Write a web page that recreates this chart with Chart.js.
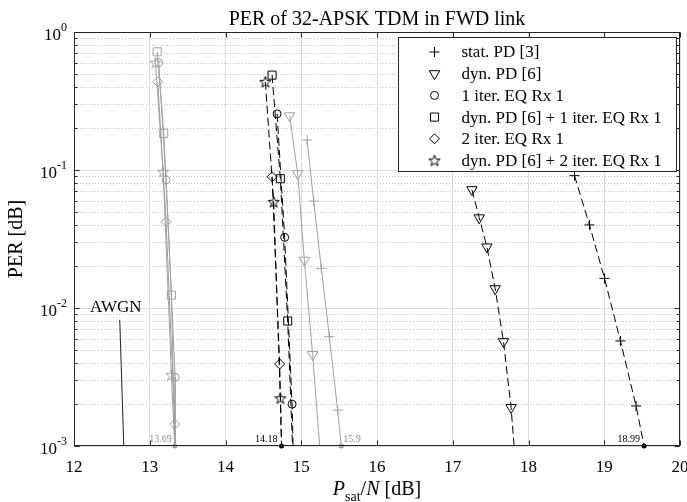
<!DOCTYPE html>
<html lang="en">
<head>
<meta charset="UTF-8">
<title>PER of 32-APSK TDM in FWD link</title>
<script src="https://cdn.jsdelivr.net/npm/chart.js@4"></script>
<style>
  html, body { margin: 0; padding: 0; background: #fff; }
  #wrap { width: 687px; height: 502px; }
</style>
</head>
<body>
<div id="wrap"><canvas id="perChart"></canvas></div>
<script>
// x: Psat/N [dB], y: PER. Last point of a curve sits on the 1e-3 floor (no marker there).
const PER_FLOOR = 0.001;

// black dashed curves
const statPdX = [18.607, 18.805, 19.003, 19.214, 19.42, 19.526];
const statPdY = [0.091, 0.040, 0.0164, 0.00577, 0.00195, 0.001];
const dynPdX = [17.253, 17.35, 17.451, 17.56, 17.67, 17.77, 17.81];
const dynPdY = [0.072, 0.045, 0.0277, 0.0138, 0.0057, 0.0019, 0.001];
const eq1X = [14.681, 14.781, 14.879, 14.892];
const eq1Y = [0.255, 0.0325, 0.00201, 0.001];
const dynEq1X = [14.615, 14.724, 14.821, 14.885];
const dynEq1Y = [0.487, 0.0865, 0.00805, 0.001];
const eq2X = [14.615, 14.715, 14.74];
const eq2Y = [0.0893, 0.00393, 0.001];
const dynEq2X = [14.526, 14.636, 14.724, 14.74];
const dynEq2Y = [0.436, 0.0588, 0.00222, 0.001];

// grey solid curves
const statPdGrayX = [15.077, 15.164, 15.265, 15.371, 15.48, 15.529];
const statPdGrayY = [0.165, 0.0595, 0.0194, 0.0062, 0.00182, 0.001];
const dynPdGrayX = [14.847, 14.953, 15.041, 15.15, 15.243];
const dynPdGrayY = [0.247, 0.094, 0.0222, 0.0046, 0.001];
const eq1GrayX = [13.119, 13.216, 13.335, 13.335];
const eq1GrayY = [0.6, 0.0848, 0.00315, 0.001];
const dynEq1GrayX = [13.098, 13.185, 13.286, 13.33];
const dynEq1GrayY = [0.719, 0.1845, 0.0124, 0.001];
const eq2GrayX = [13.106, 13.216, 13.33, 13.33];
const eq2GrayY = [0.436, 0.0421, 0.00144, 0.001];
const dynEq2GrayX = [13.075, 13.177, 13.286, 13.33];
const dynEq2GrayY = [0.6, 0.0973, 0.00327, 0.001];

// AWGN pointer line
const awgnX = [12.604, 12.657];
const awgnY = [0.0082, 0.001];

// marked end points on the floor
const endGrayX = [13.33, 15.529];
const endGrayY = [0.001, 0.001];
const endGrayLabels = ['13.69', '15.9'];
const endBlackX = [14.74, 19.526];
const endBlackY = [0.001, 0.001];
const endBlackLabels = ['14.18', '18.99'];

const legendLabels = ['stat. PD [3]', 'dyn. PD [6]', '1 iter. EQ Rx 1',
  'dyn. PD [6] + 1 iter. EQ Rx 1', '2 iter. EQ Rx 1', 'dyn. PD [6] + 2 iter. EQ Rx 1'];

const xTicks = [12, 13, 14, 15, 16, 17, 18, 19, 20];
const yMajorTicks = [0.001, 0.01, 0.1, 1];
const yTickExponents = ['-3', '-2', '-1', '0'];
const yMinorTicks = [0.002, 0.003, 0.004, 0.005, 0.006, 0.007, 0.008, 0.009,
  0.02, 0.03, 0.04, 0.05, 0.06, 0.07, 0.08, 0.09,
  0.2, 0.3, 0.4, 0.5, 0.6, 0.7, 0.8, 0.9];

const SERIF = "'Liberation Serif', 'Times New Roman', serif";
const BLACK = '#000000';
const GRAY = '#a0a0a0';

function makeStar(color) {
  const c = document.createElement('canvas');
  c.width = 14; c.height = 14;
  const g = c.getContext('2d');
  g.strokeStyle = color;
  g.lineWidth = 1;
  g.beginPath();
  for (let i = 0; i < 10; i++) {
    const r = i % 2 ? 2.4 : 5.8;
    const ang = -Math.PI / 2 + i * Math.PI / 5;
    const px = 7 + r * Math.cos(ang), py = 7.5 + r * Math.sin(ang);
    if (i) g.lineTo(px, py); else g.moveTo(px, py);
  }
  g.closePath();
  g.stroke();
  return c;
}

const markers = {
  cross: { style: 'cross', radius: 5, rotation: 0 },
  tri: { style: 'triangle', radius: 6, rotation: 180 },
  circle: { style: 'circle', radius: 4, rotation: 0 },
  square: { style: 'rect', radius: 5.7, rotation: 0 },
  diamond: { style: 'rectRot', radius: 5, rotation: 0 },
  starBlack: { style: makeStar(BLACK), radius: 5, rotation: 0 },
  starGray: { style: makeStar(GRAY), radius: 5, rotation: 0 }
};
const legendMarkers = [markers.cross, markers.tri, markers.circle, markers.square, markers.diamond, markers.starBlack];

function toPoints(xs, ys) {
  return xs.map((x, i) => ({ x: x, y: ys[i] }));
}

function curve(label, xs, ys, marker, color, dashed) {
  return {
    label: label,
    data: toPoints(xs, ys),
    showLine: true,
    borderColor: color,
    borderWidth: 1,
    borderDash: dashed ? [8, 4] : [],
    tension: 0,
    pointStyle: marker.style,
    pointRotation: marker.rotation,
    pointRadius: ctx => (ctx.raw && ctx.raw.y > PER_FLOOR ? marker.radius : 0),
    pointBorderColor: color,
    pointBackgroundColor: 'rgba(0,0,0,0)',
    pointBorderWidth: 1
  };
}

function endDots(xs, ys, color) {
  return {
    label: 'end',
    data: toPoints(xs, ys),
    showLine: false,
    pointStyle: 'circle',
    pointRadius: 2.5,
    pointBackgroundColor: color,
    pointBorderColor: color,
    pointBorderWidth: 0,
    clip: false
  };
}

const datasets = [
  curve('awgn', awgnX, awgnY, markers.circle, '#222', false),
  curve('stat gray', statPdGrayX, statPdGrayY, markers.cross, GRAY, false),
  curve('dyn gray', dynPdGrayX, dynPdGrayY, markers.tri, GRAY, false),
  curve('eq1 gray', eq1GrayX, eq1GrayY, markers.circle, GRAY, false),
  curve('dyn eq1 gray', dynEq1GrayX, dynEq1GrayY, markers.square, GRAY, false),
  curve('eq2 gray', eq2GrayX, eq2GrayY, markers.diamond, GRAY, false),
  curve('dyn eq2 gray', dynEq2GrayX, dynEq2GrayY, markers.starGray, GRAY, false),
  curve(legendLabels[0], statPdX, statPdY, markers.cross, BLACK, true),
  curve(legendLabels[1], dynPdX, dynPdY, markers.tri, BLACK, true),
  curve(legendLabels[2], eq1X, eq1Y, markers.circle, BLACK, true),
  curve(legendLabels[3], dynEq1X, dynEq1Y, markers.square, BLACK, true),
  curve(legendLabels[4], eq2X, eq2Y, markers.diamond, BLACK, true),
  curve(legendLabels[5], dynEq2X, dynEq2Y, markers.starBlack, BLACK, true),
  endDots(endGrayX, endGrayY, GRAY),
  endDots(endBlackX, endBlackY, BLACK)
];
// awgn pointer has no markers
datasets[0].pointRadius = 0;

const decor = {
  id: 'decor',
  beforeDatasetsDraw(chart) {
    const { ctx, chartArea: a, scales: { y } } = chart;
    ctx.save();
    ctx.strokeStyle = '#c4c4c4';
    ctx.lineWidth = 1;
    ctx.setLineDash([1, 2]);
    yMinorTicks.forEach(v => {
      const py = Math.round(y.getPixelForValue(v)) + 0.5;
      ctx.beginPath();
      ctx.moveTo(a.left, py);
      ctx.lineTo(a.right, py);
      ctx.stroke();
    });
    ctx.restore();
  },
  afterDatasetsDraw(chart) {
    const { ctx, chartArea: a, scales: { x, y } } = chart;
    const H = Chart.helpers;
    ctx.save();
    ctx.setLineDash([]);

    // end point values
    ctx.font = '10px ' + SERIF;
    ctx.textBaseline = 'alphabetic';
    const floorY = y.getPixelForValue(PER_FLOOR) - 4;
    ctx.fillStyle = '#8c8c8c';
    ctx.textAlign = 'right';
    ctx.fillText(endGrayLabels[0], x.getPixelForValue(endGrayX[0]) - 3, floorY);
    ctx.textAlign = 'left';
    ctx.fillText(endGrayLabels[1], x.getPixelForValue(endGrayX[1]) + 2, floorY);
    ctx.fillStyle = '#000';
    ctx.textAlign = 'right';
    endBlackLabels.forEach((t, i) => ctx.fillText(t, x.getPixelForValue(endBlackX[i]) - 4, floorY));

    // AWGN label
    ctx.font = '17px ' + SERIF;
    ctx.textAlign = 'center';
    ctx.textBaseline = 'middle';
    ctx.fillText('AWGN', x.getPixelForValue(awgnX[0]) - 4, y.getPixelForValue(awgnY[0]) - 12);

    // box and inner ticks
    const L = Math.round(a.left) + 0.5, R = Math.round(a.right) - 0.5;
    const T = Math.round(a.top) + 0.5, B = Math.round(a.bottom) - 0.5;
    ctx.strokeStyle = '#262626';
    ctx.lineWidth = 1;
    ctx.strokeRect(L, T, R - L, B - T);
    ctx.beginPath();
    xTicks.forEach(v => {
      const px = Math.round(x.getPixelForValue(v)) + 0.5;
      ctx.moveTo(px, B); ctx.lineTo(px, B - 5);
      ctx.moveTo(px, T); ctx.lineTo(px, T + 5);
    });
    yMajorTicks.forEach(v => {
      const py = Math.round(y.getPixelForValue(v)) + 0.5;
      ctx.moveTo(L, py); ctx.lineTo(L + 5, py);
      ctx.moveTo(R, py); ctx.lineTo(R - 5, py);
    });
    yMinorTicks.forEach(v => {
      const py = Math.round(y.getPixelForValue(v)) + 0.5;
      ctx.moveTo(L, py); ctx.lineTo(L + 3, py);
      ctx.moveTo(R, py); ctx.lineTo(R - 3, py);
    });
    ctx.stroke();

    // legend
    const boxW = 278, boxH = 134;
    const bx = Math.round(a.right - 4.5 - boxW) + 0.5, by = Math.round(a.top + 5) + 0.5;
    ctx.fillStyle = '#fff';
    ctx.fillRect(bx, by, boxW, boxH);
    ctx.strokeStyle = '#262626';
    ctx.strokeRect(bx, by, boxW, boxH);
    ctx.font = '17px ' + SERIF;
    ctx.textAlign = 'left';
    ctx.textBaseline = 'middle';
    legendLabels.forEach((t, i) => {
      const ry = by + 14.5 + i * 21.7;
      const m = legendMarkers[i];
      ctx.strokeStyle = BLACK;
      ctx.fillStyle = 'rgba(0,0,0,0)';
      H.drawPoint(ctx, { pointStyle: m.style, rotation: m.rotation, radius: m.radius, borderWidth: 1 }, bx + 36, ry);
      ctx.fillStyle = '#000';
      ctx.fillText(t, bx + 63, ry + 1);
    });

    // y tick labels 10^n
    ctx.textAlign = 'right';
    ctx.textBaseline = 'middle';
    yMajorTicks.forEach((v, i) => {
      const py = y.getPixelForValue(v);
      ctx.font = '12px ' + SERIF;
      const ew = ctx.measureText(yTickExponents[i]).width;
      ctx.fillText(yTickExponents[i], a.left - 7, py - 4);
      ctx.font = '17px ' + SERIF;
      ctx.fillText('10', a.left - 7 - ew, py + 4);
    });

    // title, centred over the axes
    ctx.textAlign = 'center';
    ctx.textBaseline = 'middle';
    ctx.font = '20px ' + SERIF;
    ctx.fillText('PER of 32-APSK TDM in FWD link', (a.left + a.right) / 2, a.top - 12);

    // y title
    ctx.save();
    ctx.translate(17, (a.top + a.bottom) / 2);
    ctx.rotate(-Math.PI / 2);
    ctx.textAlign = 'center';
    ctx.textBaseline = 'middle';
    ctx.font = '20px ' + SERIF;
    ctx.fillText('PER [dB]', 0, 0);
    ctx.restore();

    // x title: P_sat/N [dB]
    const parts = [
      { t: 'P', f: 'italic 20px ' + SERIF, dy: 0 },
      { t: 'sat', f: '14px ' + SERIF, dy: 6 },
      { t: '/', f: '20px ' + SERIF, dy: 0 },
      { t: 'N', f: 'italic 20px ' + SERIF, dy: 0 },
      { t: ' [dB]', f: '20px ' + SERIF, dy: 0 }
    ];
    let total = 0;
    parts.forEach(p => { ctx.font = p.f; p.w = ctx.measureText(p.t).width; total += p.w; });
    let cx = (a.left + a.right) / 2 - total / 2;
    const base = a.bottom + 49;
    ctx.textAlign = 'left';
    ctx.textBaseline = 'alphabetic';
    parts.forEach(p => { ctx.font = p.f; ctx.fillText(p.t, cx, base + p.dy); cx += p.w; });

    ctx.restore();
  }
};

new Chart(document.getElementById('perChart'), {
  type: 'scatter',
  data: { datasets: datasets },
  options: {
    responsive: true,
    maintainAspectRatio: false,
    animation: false,
    events: [],
    devicePixelRatio: 1,
    layout: { padding: { top: 32, left: 0, right: 0, bottom: 0 } },
    plugins: {
      legend: { display: false },
      tooltip: { enabled: false },
      title: { display: false }
    },
    scales: {
      x: {
        type: 'linear',
        min: 12,
        max: 20,
        afterBuildTicks: s => { s.ticks = xTicks.map(v => ({ value: v })); },
        afterFit: s => { s.height = 56; s.paddingLeft = 0; s.paddingRight = 7; },
        ticks: { color: '#000', font: { family: SERIF, size: 17 }, padding: 11, maxRotation: 0, autoSkip: false },
        grid: { color: '#dddddd', lineWidth: 1, drawTicks: false },
        border: { display: false }
      },
      y: {
        type: 'logarithmic',
        min: 0.001,
        max: 1,
        afterBuildTicks: s => { s.ticks = yMajorTicks.map(v => ({ value: v })); },
        afterFit: s => { s.width = 74; s.paddingTop = 0; s.paddingBottom = 0; },
        ticks: { display: false },
        grid: { color: '#dddddd', lineWidth: 1, drawTicks: false },
        border: { display: false }
      }
    }
  },
  plugins: [decor]
});
</script>
</body>
</html>
